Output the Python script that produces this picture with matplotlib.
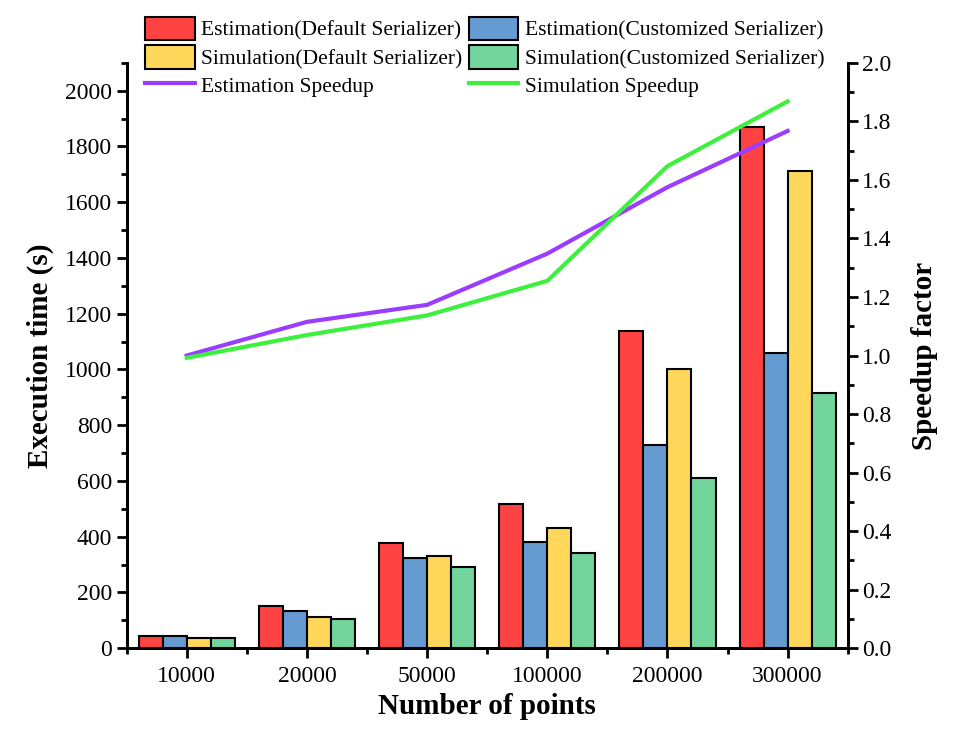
import numpy as np
import matplotlib.pyplot as plt
from matplotlib.ticker import MultipleLocator, AutoMinorLocator

plt.rcParams['font.family'] = ['Liberation Serif', 'DejaVu Serif']

points = ['10000', '20000', '50000', '100000', '200000', '300000']
est_default = [45, 150, 378, 516, 1137, 1868]
est_custom = [45, 135, 324, 381, 728, 1058]
sim_default = [36, 111, 330, 432, 1002, 1713]
sim_custom = [36, 104, 291, 342, 609, 916]
est_speedup = [1.00, 1.115, 1.173, 1.348, 1.575, 1.767]
sim_speedup = [0.992, 1.07, 1.137, 1.255, 1.647, 1.868]

x = np.arange(len(points))
w = 0.2

fig = plt.figure(figsize=(9.6, 7.3), dpi=100)
ax = fig.add_axes([0.132, 0.112, 0.751, 0.802])
ax2 = ax.twinx()

b1 = ax.bar(x - 1.5 * w, est_default, w, color='#ff4242', edgecolor='black', linewidth=1.5)
b2 = ax.bar(x - 0.5 * w, est_custom, w, color='#659bd0', edgecolor='black', linewidth=1.5)
b3 = ax.bar(x + 0.5 * w, sim_default, w, color='#ffd75a', edgecolor='black', linewidth=1.5)
b4 = ax.bar(x + 1.5 * w, sim_custom, w, color='#72d69c', edgecolor='black', linewidth=1.5)

l1, = ax2.plot(x, est_speedup, color='#9a3dff', linewidth=3)
l2, = ax2.plot(x, sim_speedup, color='#3ef03e', linewidth=3)

ax.set_xlim(-0.5, 5.5)
ax.set_ylim(0, 2100)
ax2.set_ylim(0, 2.0)
ax.set_xticks(x)
ax.set_xticklabels(points)
ax.set_xticks(np.arange(-0.5, 5.6, 1.0), minor=True)
ax.yaxis.set_major_locator(MultipleLocator(200))
ax.yaxis.set_minor_locator(AutoMinorLocator(2))
ax2.yaxis.set_major_locator(MultipleLocator(0.2))
ax2.yaxis.set_minor_locator(AutoMinorLocator(2))

for a in (ax, ax2):
    a.spines['top'].set_visible(False)
    for s in a.spines.values():
        s.set_linewidth(2)
    a.tick_params(which='major', direction='out', length=7, width=2, labelsize=17)
    a.tick_params(which='minor', direction='out', length=4, width=2)
ax.tick_params(axis='x', which='major', pad=6)

ax.set_xlabel('Number of points', fontsize=21, fontweight='bold', labelpad=4)
ax.set_ylabel('Execution time (s)', fontsize=21, fontweight='bold', labelpad=8)
ax2.set_ylabel('Speedup factor', fontsize=21, fontweight='bold', labelpad=14)

handles = [b1, b3, l1, b2, b4, l2]
labels = ['Estimation(Default Serializer)', 'Simulation(Default Serializer)', 'Estimation Speedup',
          'Estimation(Customized Serializer)', 'Simulation(Customized Serializer)', 'Simulation Speedup']
fig.legend(handles, labels, ncol=2, loc='upper left', bbox_to_anchor=(145 / 960, 1 - 17 / 730),
           frameon=False, fontsize=15.5, handlelength=2.3, handleheight=1.3, borderpad=0,
           borderaxespad=0, columnspacing=0.3, handletextpad=0.3, labelspacing=0.2)

fig.savefig('out.png', dpi=100)
